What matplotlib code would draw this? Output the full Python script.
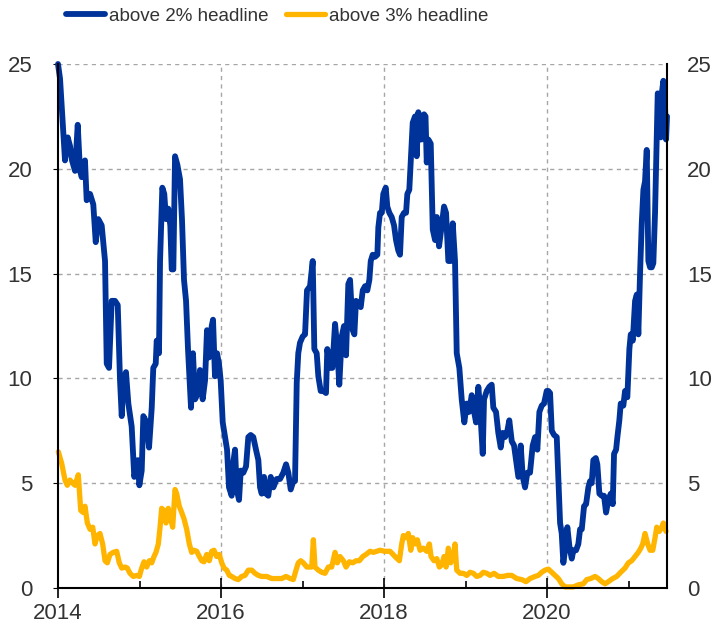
import matplotlib
matplotlib.use("Agg")
import matplotlib.pyplot as plt
from matplotlib.ticker import MultipleLocator

plt.rcParams['font.family'] = ['Liberation Sans', 'DejaVu Sans']

# ---- data: above 2% headline (x = year offset from 2014) ----
blue_off = [0.000, 0.025, 0.086, 0.119, 0.147, 0.172, 0.209, 0.242, 0.270, 0.291,
            0.331, 0.352, 0.393, 0.433, 0.463, 0.494, 0.536, 0.577, 0.598, 0.626,
            0.659, 0.699, 0.733, 0.761, 0.782, 0.801, 0.834, 0.863, 0.904, 0.936,
            0.978, 0.998, 1.027, 1.047, 1.088, 1.117, 1.150, 1.169, 1.199, 1.211,
            1.239, 1.252, 1.280, 1.304, 1.325, 1.353, 1.378, 1.395, 1.415, 1.436,
            1.464, 1.497, 1.521, 1.546, 1.571, 1.595, 1.632, 1.656, 1.681, 1.718,
            1.742, 1.775, 1.804, 1.828, 1.853, 1.886, 1.902, 1.926, 1.951, 1.975,
            1.996, 2.021, 2.049, 2.074, 2.098, 2.131, 2.151, 2.172, 2.193, 2.221,
            2.242, 2.274, 2.307, 2.335, 2.364, 2.396, 2.429, 2.458, 2.479, 2.499,
            2.528, 2.552, 2.580, 2.610, 2.642, 2.683, 2.724, 2.764, 2.798, 2.826,
            2.855, 2.887, 2.908, 2.929, 2.948, 2.969, 3.002, 3.031, 3.055, 3.092,
            3.125, 3.145, 3.174, 3.194, 3.223, 3.255, 3.288, 3.304, 3.337, 3.366,
            3.399, 3.427, 3.451, 3.481, 3.509, 3.534, 3.562, 3.583, 3.616, 3.636,
            3.656, 3.685, 3.714, 3.739, 3.767, 3.795, 3.820, 3.837, 3.861, 3.890,
            3.918, 3.930, 3.951, 3.972, 3.991, 4.021, 4.040, 4.065, 4.094, 4.123,
            4.147, 4.175, 4.196, 4.217, 4.245, 4.270, 4.286, 4.310, 4.328, 4.352,
            4.380, 4.401, 4.421, 4.442, 4.463, 4.491, 4.509, 4.524, 4.543, 4.573,
            4.598, 4.626, 4.647, 4.675, 4.708, 4.736, 4.761, 4.789, 4.818, 4.843,
            4.871, 4.892, 4.924, 4.953, 4.985, 5.015, 5.043, 5.076, 5.096, 5.129,
            5.157, 5.178, 5.211, 5.227, 5.260, 5.292, 5.321, 5.341, 5.374, 5.402,
            5.432, 5.456, 5.485, 5.513, 5.537, 5.567, 5.595, 5.620, 5.648, 5.677,
            5.702, 5.730, 5.758, 5.791, 5.824, 5.853, 5.881, 5.906, 5.935, 5.963,
            5.996, 6.016, 6.037, 6.058, 6.086, 6.119, 6.139, 6.160, 6.180, 6.200,
            6.221, 6.249, 6.274, 6.303, 6.323, 6.356, 6.384, 6.405, 6.426, 6.454,
            6.479, 6.507, 6.528, 6.548, 6.568, 6.598, 6.617, 6.642, 6.671, 6.699,
            6.724, 6.752, 6.782, 6.806, 6.822, 6.847, 6.863, 6.887, 6.904, 6.936,
            6.957, 6.985, 7.010, 7.027, 7.052, 7.080, 7.101, 7.120, 7.141, 7.162,
            7.182, 7.202, 7.223, 7.243, 7.264, 7.285, 7.304, 7.325, 7.346, 7.358,
            7.378, 7.395, 7.411, 7.427, 7.448, 7.460, 7.472]
blue_val = [25.0, 24.3, 20.4, 21.5, 21.1, 20.4, 19.9, 22.1, 19.9, 19.6,
            20.4, 18.5, 18.8, 18.3, 16.5, 17.6, 17.3, 15.6, 10.7, 10.5,
            13.7, 13.7, 13.5, 9.9, 8.2, 9.9, 10.3, 8.8, 7.7, 5.3,
            6.1, 4.9, 5.6, 8.2, 7.9, 6.7, 8.6, 10.5, 10.7, 11.8,
            11.2, 15.6, 19.1, 18.8, 17.6, 18.1, 17.3, 15.2, 15.2, 20.6,
            20.2, 19.5, 17.6, 14.7, 13.7, 11.4, 8.6, 11.2, 9.0, 9.3,
            10.4, 9.0, 9.9, 12.3, 11.0, 12.5, 12.8, 10.1, 11.2, 10.7,
            9.9, 7.9, 7.2, 6.6, 4.8, 4.4, 6.0, 6.6, 4.7, 4.2,
            5.6, 5.5, 5.8, 7.2, 7.3, 7.2, 6.6, 6.1, 4.8, 4.5,
            5.3, 4.5, 4.4, 5.3, 4.8, 5.2, 5.2, 5.5, 5.9, 5.5,
            4.7, 5.1, 5.1, 9.8, 11.2, 11.7, 12.0, 12.1, 14.2, 14.4,
            15.6, 11.4, 11.2, 10.1, 9.4, 9.4, 9.3, 11.4, 10.5, 10.5,
            12.6, 11.4, 9.7, 12.0, 12.5, 11.1, 14.5, 14.7, 12.3, 12.1,
            13.7, 13.6, 13.4, 14.2, 14.4, 14.2, 14.7, 15.6, 15.9, 15.8,
            15.9, 17.2, 17.9, 17.9, 18.8, 19.1, 18.2, 17.9, 17.7, 17.3,
            16.6, 16.1, 15.9, 17.7, 17.9, 17.9, 18.8, 19.0, 20.4, 22.2,
            22.5, 20.6, 22.7, 21.4, 21.4, 22.6, 22.5, 20.3, 21.4, 21.2,
            17.1, 16.6, 17.7, 16.3, 17.3, 18.2, 17.9, 15.6, 15.6, 17.4,
            15.6, 11.2, 10.5, 9.0, 7.9, 8.8, 8.4, 9.2, 8.6, 7.9,
            9.6, 8.6, 6.4, 9.0, 9.4, 9.6, 9.7, 8.6, 8.4, 7.4,
            6.7, 7.4, 7.2, 7.5, 8.0, 7.0, 6.8, 6.1, 5.3, 6.8,
            5.3, 4.8, 5.5, 5.5, 6.8, 7.2, 6.6, 8.4, 8.7, 8.8,
            9.4, 9.4, 9.3, 7.5, 7.3, 7.2, 5.2, 3.1, 2.6, 1.2,
            1.8, 2.9, 2.0, 1.4, 1.8, 1.8, 2.1, 2.8, 2.8, 3.9,
            4.0, 4.8, 5.1, 5.0, 6.1, 6.2, 5.9, 4.5, 4.4, 4.4,
            3.6, 4.2, 4.5, 4.0, 6.4, 6.6, 7.2, 8.0, 8.8, 8.7,
            9.4, 9.1, 11.4, 12.1, 11.8, 13.7, 14.0, 12.1, 15.0, 17.4,
            19.0, 19.4, 20.9, 15.6, 15.3, 15.3, 15.5, 17.9, 21.5, 23.6,
            23.4, 21.5, 23.7, 24.2, 22.9, 21.4, 22.5]

# ---- data: above 3% headline (x = year offset from 2014) ----
yel_off = [0.004, 0.045, 0.086, 0.114, 0.147, 0.180, 0.209, 0.249, 0.279, 0.310,
           0.331, 0.360, 0.393, 0.426, 0.454, 0.482, 0.515, 0.548, 0.577, 0.605,
           0.638, 0.678, 0.720, 0.752, 0.782, 0.822, 0.850, 0.883, 0.924, 0.966,
           0.998, 1.027, 1.055, 1.088, 1.120, 1.150, 1.178, 1.202, 1.231, 1.252,
           1.272, 1.301, 1.325, 1.353, 1.383, 1.407, 1.436, 1.456, 1.488, 1.518,
           1.546, 1.579, 1.611, 1.640, 1.669, 1.702, 1.734, 1.763, 1.791, 1.825,
           1.856, 1.886, 1.914, 1.947, 1.979, 2.009, 2.037, 2.070, 2.102, 2.131,
           2.172, 2.212, 2.254, 2.294, 2.335, 2.377, 2.417, 2.458, 2.499, 2.561,
           2.622, 2.683, 2.745, 2.798, 2.847, 2.887, 2.920, 2.948, 2.978, 3.010,
           3.052, 3.083, 3.113, 3.133, 3.153, 3.194, 3.236, 3.276, 3.317, 3.358,
           3.399, 3.427, 3.460, 3.501, 3.534, 3.574, 3.616, 3.656, 3.697, 3.739,
           3.779, 3.828, 3.869, 3.910, 3.951, 4.012, 4.074, 4.135, 4.188, 4.217,
           4.237, 4.270, 4.298, 4.328, 4.352, 4.380, 4.409, 4.442, 4.482, 4.524,
           4.556, 4.577, 4.613, 4.647, 4.679, 4.708, 4.736, 4.761, 4.789, 4.818,
           4.850, 4.871, 4.892, 4.933, 4.973, 5.015, 5.055, 5.096, 5.137, 5.178,
           5.218, 5.260, 5.301, 5.350, 5.402, 5.464, 5.513, 5.567, 5.628, 5.690,
           5.742, 5.791, 5.853, 5.893, 5.935, 5.975, 6.016, 6.058, 6.098, 6.139,
           6.180, 6.221, 6.261, 6.323, 6.384, 6.445, 6.487, 6.536, 6.589, 6.629,
           6.671, 6.712, 6.752, 6.806, 6.855, 6.904, 6.957, 6.998, 7.039, 7.080,
           7.120, 7.150, 7.174, 7.202, 7.235, 7.264, 7.297, 7.325, 7.346, 7.378,
           7.407, 7.427, 7.460]
yel_val = [6.5, 5.95, 5.15, 4.9, 5.15, 5.0, 4.9, 5.4, 3.7, 3.6,
           3.9, 3.1, 2.8, 2.9, 2.1, 2.5, 2.6, 2.1, 1.3, 1.2,
           1.6, 1.7, 1.75, 1.2, 0.95, 1.0, 0.95, 0.7, 0.55, 0.6,
           0.55, 0.95, 1.25, 1.0, 1.3, 1.2, 1.5, 1.7, 2.1, 2.9,
           3.8, 3.7, 3.1, 3.8, 3.3, 2.9, 4.7, 4.5, 3.9, 3.6,
           3.3, 2.8, 2.1, 1.7, 1.8, 1.75, 1.5, 1.3, 1.25, 1.6,
           1.3, 1.75, 1.8, 1.5, 1.6, 1.2, 0.95, 0.85, 0.6, 0.55,
           0.45, 0.4, 0.55, 0.6, 0.85, 0.85, 0.7, 0.6, 0.55, 0.55,
           0.45, 0.45, 0.45, 0.55, 0.45, 0.4, 0.85, 1.2, 1.3, 1.2,
           1.0, 1.0, 1.0, 2.3, 1.0, 0.85, 0.75, 0.7, 1.0, 1.0,
           1.7, 1.2, 1.5, 1.3, 1.0, 1.25, 1.2, 1.3, 1.3, 1.5,
           1.6, 1.75, 1.7, 1.75, 1.8, 1.75, 1.75, 1.5, 1.3, 2.1,
           2.5, 2.4, 2.6, 1.8, 2.4, 2.1, 2.3, 1.8, 1.9, 1.75,
           2.1, 1.5, 1.3, 1.4, 1.0, 1.1, 1.5, 1.0, 1.9, 1.2,
           1.5, 2.1, 0.85, 0.7, 0.7, 0.6, 0.75, 0.7, 0.55, 0.6,
           0.75, 0.7, 0.6, 0.7, 0.55, 0.55, 0.6, 0.6, 0.45, 0.4,
           0.3, 0.45, 0.55, 0.6, 0.75, 0.85, 0.9, 0.75, 0.6, 0.45,
           0.2, 0.05, 0.05, 0.05, 0.15, 0.2, 0.4, 0.45, 0.55, 0.45,
           0.3, 0.2, 0.3, 0.45, 0.55, 0.75, 0.95, 1.2, 1.3, 1.5,
           1.7, 1.9, 2.1, 2.6, 2.1, 1.8, 1.8, 2.4, 2.9, 2.7,
           2.9, 3.1, 2.7]

start_year = 2014
x_ticks = [2014, 2016, 2018, 2020]
y_ticks = [0, 5, 10, 15, 20, 25]
labels = ["above 2% headline", "above 3% headline"]

blue_x = [start_year + v for v in blue_off]
yel_x = [start_year + v for v in yel_off]

BLUE = "#003399"
YELLOW = "#FFB400"
TXT = "#333333"

fig = plt.figure(figsize=(7.16, 6.3), dpi=100)
ax = fig.add_axes([0.0810, 0.0667, 0.8506, 0.8317])

ax.plot(blue_x, blue_val, color=BLUE, lw=4.2, solid_joinstyle='round',
        solid_capstyle='round', label=labels[0], clip_on=False, zorder=3)
ax.plot(yel_x, yel_val, color=YELLOW, lw=3.8, solid_joinstyle='round',
        solid_capstyle='round', label=labels[1], clip_on=False, zorder=3)

ax.set_xlim(2014, 2021.472)
ax.set_ylim(0, 25)
ax.set_xticks(x_ticks)
ax.set_xticklabels([str(t) for t in x_ticks])
ax.xaxis.set_minor_locator(MultipleLocator(1))
ax.set_yticks(y_ticks)
ax.set_yticklabels([str(t) for t in y_ticks])

ax.tick_params(axis='x', which='major', direction='inout', length=14, width=1.2,
               color='black', labelsize=16, labelcolor=TXT, pad=4)
ax.tick_params(axis='x', which='minor', direction='in', length=5, width=1.2,
               color='black')
ax.tick_params(axis='y', which='both', left=False, right=False,
               labelleft=True, labelright=False, labelsize=16,
               labelcolor=TXT, pad=15)

# right-hand axis with the same scale
ax2 = ax.twinx()
ax2.set_ylim(ax.get_ylim())
ax2.set_yticks(y_ticks)
ax2.set_yticklabels([str(t) for t in y_ticks])
ax2.tick_params(axis='y', right=False, left=False, labelsize=16,
                labelcolor=TXT, pad=11)
for s in ax2.spines.values():
    s.set_visible(False)

ax.spines['top'].set_visible(False)
for s in ['left', 'right', 'bottom']:
    ax.spines[s].set_linewidth(1.5)
    ax.spines[s].set_color('black')
    ax.spines[s].set_zorder(4)

ax.grid(True, which='major', color='#a6a6a6', linestyle=(0, (3, 3)), linewidth=1.0)
ax.set_axisbelow(True)
# hide the vertical grid line at the left spine
ax.get_xgridlines()[0].set_visible(False)

fig.legend(handles=ax.get_lines(), labels=labels, loc='center left',
           bbox_to_anchor=(0.0922, 0.974), ncol=2,
           frameon=False, fontsize=13.5, handlelength=2.1, handletextpad=0.2,
           columnspacing=0.9, borderpad=0, borderaxespad=0, labelcolor=TXT)

fig.savefig("out.png", dpi=100)
